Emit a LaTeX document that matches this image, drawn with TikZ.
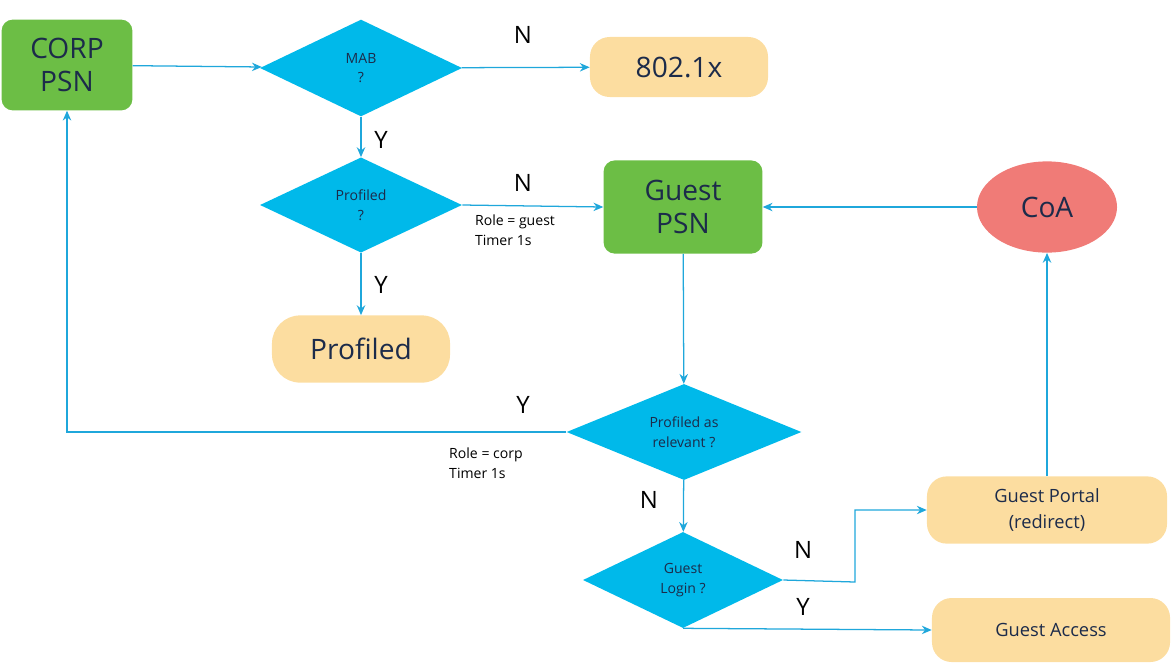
\documentclass[tikz,border=0pt]{standalone}
\usepackage{fontspec}
\setmainfont{Open Sans}
\usetikzlibrary{positioning,shapes.geometric,arrows.meta}
\definecolor{psngreen}{HTML}{6CBE45}
\definecolor{flowcyan}{HTML}{00B9EA}
\definecolor{lineblue}{HTML}{1FA7DB}
\definecolor{peach}{HTML}{FCDDA0}
\definecolor{salmon}{HTML}{F07B77}
\definecolor{navy}{HTML}{1C2B4A}
\tikzstyle{PsnNode}=[rectangle, fill=psngreen, rounded corners=8pt, minimum width=3.95cm, minimum height=2.3cm, align=center, text=navy, font=\fontsize{20}{24}\selectfont]
\tikzstyle{DecisionNode}=[diamond, fill=flowcyan, aspect=2.1, inner sep=0pt, align=center, text=navy, font=\fontsize{10}{14}\selectfont]
\tikzstyle{EndNode}=[rectangle, fill=peach, rounded corners=14pt, align=center, text=navy]
\tikzstyle{Flow}=[draw=lineblue, line width=0.9pt, -{Stealth[length=7pt,width=6pt]}]
\tikzstyle{Lbl}=[text=black, font=\fontsize{17}{20}\selectfont]
\tikzstyle{Note}=[text=black, align=left, font=\fontsize{10}{14}\selectfont]
\begin{document}
\begin{tikzpicture}[x=0.025cm, y=-0.025cm]
    \useasboundingbox (0,0) rectangle (1174,666);

    \node (corp) [PsnNode, minimum width=3.27cm, minimum height=2.27cm] at (67,65) {CORP\\PSN};
    \node (mab) [DecisionNode, minimum width=5.05cm, minimum height=2.42cm] at (361,68) {MAB\\?};
    \node (dot1x) [EndNode, minimum width=4.45cm, minimum height=1.5cm, font=\fontsize{20}{24}\selectfont] at (679,67) {802.1x};
    \node (profq) [DecisionNode, minimum width=5.05cm, minimum height=2.38cm] at (361,205) {Profiled\\?};
    \node (profiled) [EndNode, minimum width=4.45cm, minimum height=1.68cm, rounded corners=20pt, font=\fontsize{20}{24}\selectfont] at (361,349) {Profiled};
    \node (guestpsn) [PsnNode, minimum width=3.97cm, minimum height=2.33cm] at (683,207) {Guest\\PSN};
    \node (coa) [ellipse, fill=salmon, minimum width=3.5cm, minimum height=2.28cm, text=navy, font=\fontsize{20}{24}\selectfont] at (1047,207) {CoA};
    \node (relev) [DecisionNode, minimum width=5.87cm, minimum height=2.4cm] at (684,432) {Profiled as\\relevant ?};
    \node (login) [DecisionNode, minimum width=5cm, minimum height=2.4cm] at (683,580) {Guest\\Login ?};
    \node (portal) [EndNode, minimum width=6cm, minimum height=1.68cm, font=\fontsize{13}{18}\selectfont] at (1047,510) {Guest Portal\\(redirect)};
    \node (access) [EndNode, minimum width=5.95cm, minimum height=1.6cm, font=\fontsize{13}{18}\selectfont] at (1051,630) {Guest Access};
    \coordinate (bend) at (855,582);

    \draw [Flow] (corp) -- (mab);
    \draw [Flow] (mab) -- (dot1x);
    \draw [Flow] (mab) -- (profq);
    \draw [Flow] (profq.east) -- (guestpsn.west);
    \draw [Flow] (profq) -- (profiled);
    \draw [Flow] (coa) -- (guestpsn);
    \draw [Flow] (guestpsn) -- (relev);
    \draw [Flow] (relev.west) -| (corp.south);
    \draw [Flow] (relev) -- (login);
    \draw [Flow] (login.east) -- (bend) |- (portal.west);
    \draw [Flow] (login.south) -- (access.west);
    \draw [Flow] (portal) -- (coa);

    \node (n1) [Lbl] at (523,35) {N};
    \node (y1) [Lbl] at (381,140) {Y};
    \node (n2) [Lbl] at (523,183) {N};
    \node (r1) [Note] at (515,230) {Role = guest\\Timer 1s};
    \node (y2) [Lbl] at (381,285) {Y};
    \node (y3) [Lbl] at (523,405) {Y};
    \node (r2) [Note] at (486,463) {Role = corp\\Timer 1s};
    \node (n3) [Lbl] at (649,500) {N};
    \node (n4) [Lbl] at (803,550) {N};
    \node (y4) [Lbl] at (803,607) {Y};
\end{tikzpicture}
\end{document}
